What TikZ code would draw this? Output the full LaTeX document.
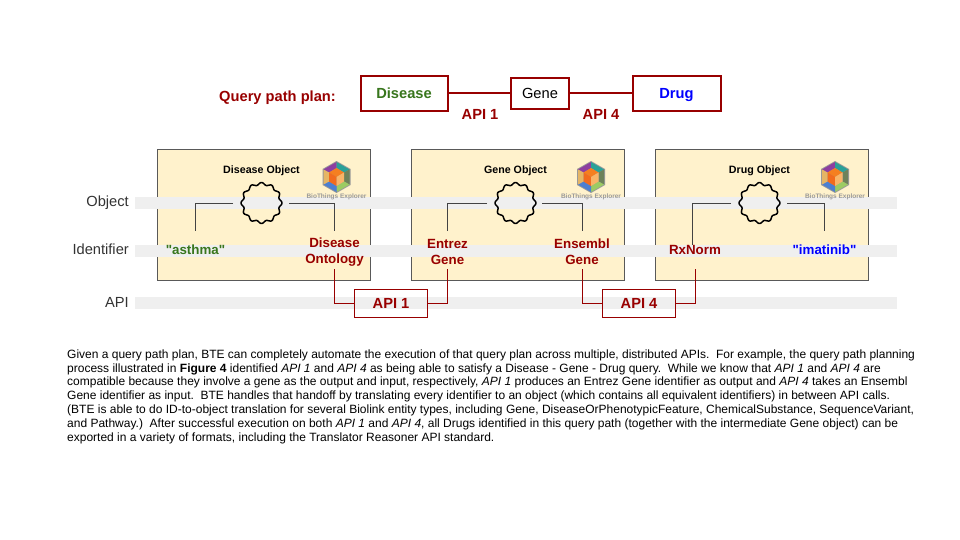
\documentclass[tikz,border=0pt]{standalone}
\usepackage{fontspec}
\setmainfont{Liberation Sans}
\newfontfamily\quotefont{Liberation Sans}
\definecolor{plan}{HTML}{980000}
\definecolor{boxfill}{HTML}{FFF2CC}
\definecolor{stripe}{HTML}{EFEFEF}
\definecolor{bordergray}{HTML}{595959}
\definecolor{linkgray}{HTML}{434343}
\definecolor{dgreen}{HTML}{38761D}
\definecolor{dblue}{HTML}{0000FF}
\definecolor{hexpurple}{HTML}{8E3FA0}
\definecolor{hexteal}{HTML}{2AA198}
\definecolor{hexolive}{HTML}{6E825A}
\definecolor{hexlime}{HTML}{9CCB63}
\definecolor{hexblue}{HTML}{4C7FD0}
\definecolor{hextan}{HTML}{E5B565}
\definecolor{cubetop}{HTML}{F57F20}
\definecolor{cubeleft}{HTML}{F26B1D}
\definecolor{cuberight}{HTML}{F9B468}
\begin{document}
\begin{tikzpicture}[
    x=1pt, y=-1pt,
    plannode/.style={draw=plan, line width=2pt, fill=white, inner sep=0pt, text height=10.5pt, text depth=0pt, font=\fontsize{14.67}{14.67}\selectfont\bfseries},
    planlabel/.style={text=plan, inner sep=0pt, font=\fontsize{14.67}{14.67}\selectfont\bfseries},
    planedge/.style={draw=plan, line width=2pt},
    objbox/.style={draw=bordergray, line width=1pt, fill=boxfill, minimum width=213pt, minimum height=130pt, inner sep=0pt},
    band/.style={fill=stripe, minimum width=762pt, minimum height=12pt, inner sep=0pt},
    rowlabel/.style={font=\fontsize{14.67}{14.67}\selectfont, inner sep=0pt, text=black!80},
    objtitle/.style={font=\fontsize{10.67}{10.67}\selectfont\bfseries},
    idlabel/.style={text=plan, align=center, font=\fontsize{13.33}{16}\selectfont\bfseries},
    apibox/.style={draw=plan, line width=1pt, fill=none, minimum width=73pt, minimum height=28pt, inner sep=0pt, text=plan, font=\fontsize{14.67}{14.67}\selectfont\bfseries},
    objlink/.style={draw=linkgray, line width=1pt},
    apilink/.style={draw=plan, line width=1pt},
    burst/.style={circle, minimum size=40pt, inner sep=0pt},
    logo/.pic={
        \fill[black!40] (-14,-8) -- (0,-16) -- (14,-8) -- (14,8) -- (0,16) -- (-14,8) -- cycle;
        \fill[hexpurple] (-13,-7.5) -- (0,-15) -- (0,-9) -- (-7.5,-4.5) -- cycle;
        \fill[hexteal] (0,-15) -- (13,-7.5) -- (7.5,-4.5) -- (0,-9) -- cycle;
        \fill[hexolive] (13,-7.5) -- (13,7.5) -- (7.5,4.5) -- (7.5,-4.5) -- cycle;
        \fill[hexlime] (13,7.5) -- (0,15) -- (0,9) -- (7.5,4.5) -- cycle;
        \fill[hexblue] (0,15) -- (-13,7.5) -- (-7.5,4.5) -- (0,9) -- cycle;
        \fill[hextan] (-13,7.5) -- (-13,-7.5) -- (-7.5,-4.5) -- (-7.5,4.5) -- cycle;
        \fill[cubetop] (-7.5,-4.5) -- (0,-9) -- (7.5,-4.5) -- (0,0) -- cycle;
        \fill[cubeleft] (-7.5,-4.5) -- (0,0) -- (0,9) -- (-7.5,4.5) -- cycle;
        \fill[cuberight] (7.5,-4.5) -- (0,0) -- (0,9) -- (7.5,4.5) -- cycle;
        \node[text=black!40, inner sep=0pt, font=\fontsize{6.5}{6.5}\selectfont\bfseries] (cap) at (0,20) {BioThings Explorer};
    }
]

\useasboundingbox (0,0) rectangle (960,540);

% ---- object boxes ----
\node[objbox] (dbox) at (263.5,215) {};
\node[objbox] (gbox) at (518,215) {};
\node[objbox] (rbox) at (761.5,215) {};

% ---- bands ----
\node[band] (objband) at (516,203) {};
\node[band] (idband) at (516,250.5) {};
\node[band] (apiband) at (516,303) {};

\node[rowlabel, anchor=east] (objrow) at (129,203) {Object};
\node[rowlabel, anchor=east] (idrow) at (129,249) {Identifier};
\node[rowlabel, anchor=east] (apirow) at (129,302) {API};

% ---- query path plan ----
\node[planlabel, anchor=east] (plan) at (336,98) {Query path plan:};
\node[plannode, minimum width=87pt, minimum height=35pt, text=dgreen] (disease) at (404,93.5) {Disease};
\node[plannode, minimum width=58pt, minimum height=31pt, font=\fontsize{14.67}{14.67}\selectfont] (gene) at (540,93.5) {Gene};
\node[plannode, minimum width=88pt, minimum height=35pt, text=dblue] (drug) at (676.5,93.5) {Drug};
\draw[planedge] (disease) -- (gene);
\draw[planedge] (gene) -- (drug);
\node[planlabel] (api1) at (480,114.5) {API 1};
\node[planlabel] (api4) at (601,114.5) {API 4};

% ---- titles and logos ----
\node[objtitle] (dtitle) at (261.5,171) {Disease Object};
\node[objtitle] (gtitle) at (515.5,171) {Gene Object};
\node[objtitle] (rtitle) at (759.5,171) {Drug Object};

\pic at (336.5,177) {logo};
\pic at (591,177) {logo};
\pic at (835,177) {logo};

% ---- burst circles ----
\node[burst] (dburst) at (261.5,203) {};
\node[burst] (gburst) at (515.5,203) {};
\node[burst] (rburst) at (759.5,203) {};
\foreach \cx in {261.5,515.5,759.5}
    \draw[line width=1.5pt, line join=round] plot[domain=0:360, samples=121] ({\cx+(19.3+1.2*cos(12*\x))*cos(\x)},{203+(19.3+1.2*cos(12*\x))*sin(\x)}) -- cycle;

% ---- identifiers ----
\node[idlabel, text=dgreen] (asthma) at (195.5,250) {{\quotefont "asthma"}};
\node[idlabel] (ontology) at (334.5,252) {Disease\\Ontology};
\node[idlabel] (entrez) at (447.5,252) {Entrez\\Gene};
\node[idlabel] (ensembl) at (582,252) {Ensembl\\Gene};
\node[idlabel] (rxnorm) at (695,250) {RxNorm};
\node[idlabel, text=dblue] (imatinib) at (824.5,250) {{\quotefont "imatinib"}};

% ---- edges ----
\coordinate (dl) at (233,203);
\coordinate (dr) at (289,203);
\coordinate (gl) at (487,203);
\coordinate (gr) at (542,203);
\coordinate (rl) at (731,203);
\coordinate (rr) at (787,203);
\coordinate (asthmatop) at (195,231);
\coordinate (ontologytop) at (334.5,231);
\coordinate (entreztop) at (447.5,231);
\coordinate (ensembltop) at (582.5,231);
\coordinate (rxnormtop) at (692,245);
\coordinate (imatinibtop) at (824.5,231);
\draw[objlink] (dl) -| (asthmatop);
\draw[objlink] (dr) -| (ontologytop);
\draw[objlink] (gl) -| (entreztop);
\draw[objlink] (gr) -| (ensembltop);
\draw[objlink] (rl) -| (rxnormtop);
\draw[objlink] (rr) -| (imatinibtop);

% ---- api boxes ----
\node[apibox] (apia) at (391,303) {API 1};
\node[apibox] (apib) at (639,303) {API 4};
\coordinate (ontologybot) at (334.5,269);
\coordinate (entrezbot) at (447.5,269);
\coordinate (ensemblbot) at (582.5,269);
\coordinate (rxnormbot) at (695.5,269);
\draw[apilink] (ontologybot) |- (apia);
\draw[apilink] (entrezbot) |- (apia);
\draw[apilink] (ensemblbot) |- (apib);
\draw[apilink] (rxnormbot) |- (apib);

% ---- caption ----
\node[anchor=north west, inner sep=0pt, align=left, font=\fontsize{12}{13.8}\selectfont] (caption) at (67,349.5) {Given a query path plan, BTE can completely automate the execution of that query plan across multiple, distributed APIs.\ \ For example, the query path planning\\
process illustrated in \textbf{Figure 4} identified \textit{API 1} and \textit{API 4} as being able to satisfy a Disease - Gene - Drug query.\ \ While we know that \textit{API 1} and \textit{API 4} are\\
compatible because they involve a gene as the output and input, respectively, \textit{API 1} produces an Entrez Gene identifier as output and \textit{API 4} takes an Ensembl\\
Gene identifier as input.\ \ BTE handles that handoff by translating every identifier to an object (which contains all equivalent identifiers) in between API calls.\\
(BTE is able to do ID-to-object translation for several Biolink entity types, including Gene, DiseaseOrPhenotypicFeature, ChemicalSubstance, SequenceVariant,\\
and Pathway.)\ \ After successful execution on both \textit{API 1} and \textit{API 4}, all Drugs identified in this query path (together with the intermediate Gene object) can be\\
exported in a variety of formats, including the Translator Reasoner API standard.};

\end{tikzpicture}
\end{document}
